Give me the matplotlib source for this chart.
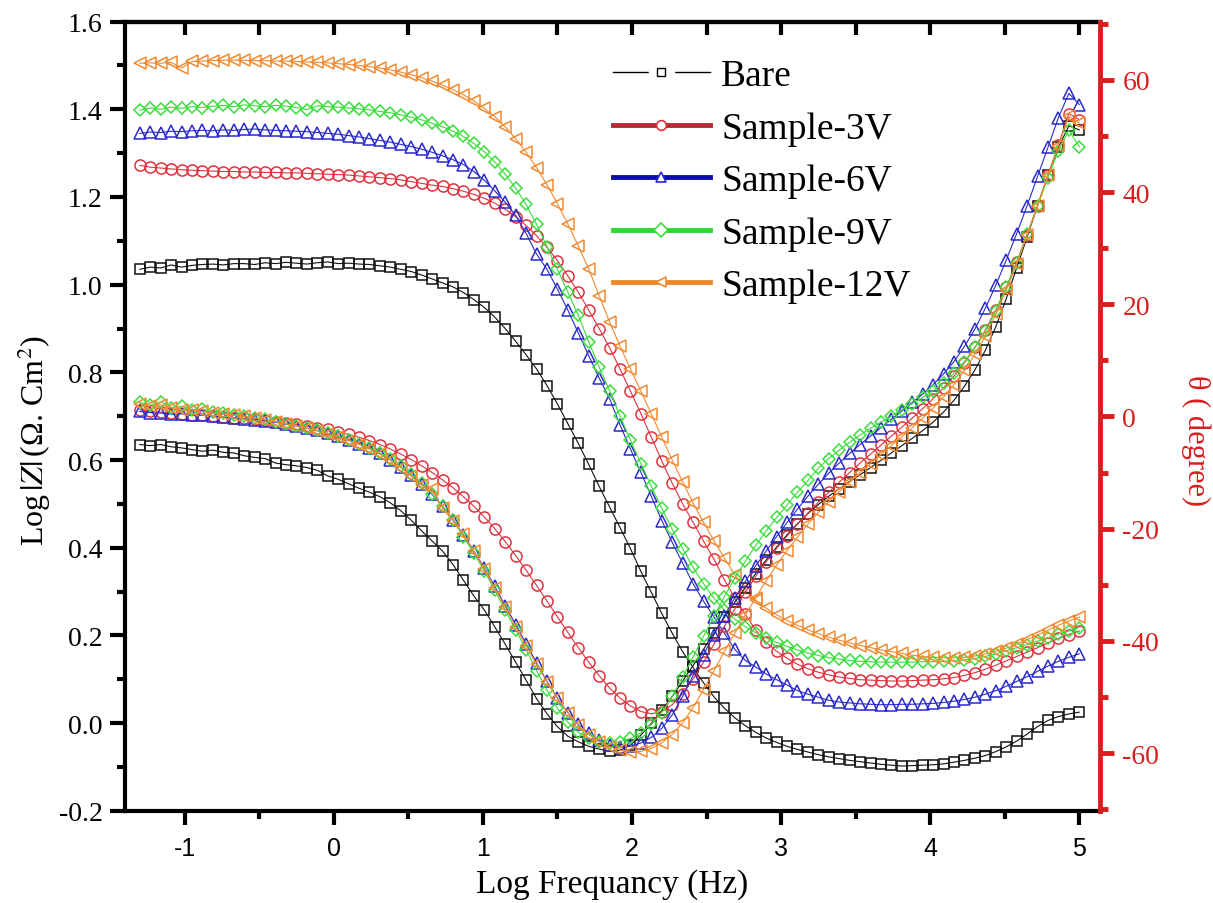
import numpy as np
import matplotlib
matplotlib.use('Agg')
import matplotlib.pyplot as plt
from matplotlib.lines import Line2D
from matplotlib.legend_handler import HandlerTuple
from matplotlib.ticker import MultipleLocator, FormatStrFormatter

plt.rcParams['font.family'] = 'Liberation Serif'
plt.rcParams['mathtext.fontset'] = 'stix'
plt.rcParams['axes.unicode_minus'] = False

# log frequency grid of the measurement (Hz, log10)
log_freq = np.round(np.arange(-1.30, 5.001, 0.07), 2)

# --- Log|Z| curves (left axis) ---
bare_z = [1.035, 1.040, 1.038, 1.045, 1.040, 1.044, 1.046, 1.047, 1.045, 1.048,
          1.048, 1.046, 1.050, 1.048, 1.051, 1.049, 1.047, 1.050, 1.052, 1.048,
          1.049, 1.047, 1.046, 1.043, 1.040, 1.035, 1.030, 1.022, 1.013, 1.004,
          0.995, 0.982, 0.966, 0.948, 0.926, 0.900, 0.871, 0.840, 0.808, 0.770,
          0.728, 0.683, 0.638, 0.590, 0.540, 0.493, 0.446, 0.398, 0.346, 0.298,
          0.250, 0.205, 0.163, 0.127, 0.092, 0.060, 0.034, 0.012, -0.006, -0.021,
          -0.034, -0.044, -0.053, -0.060, -0.066, -0.072, -0.077, -0.081, -0.085, -0.088,
          -0.091, -0.094, -0.096, -0.098, -0.097, -0.096, -0.095, -0.093, -0.089, -0.085,
          -0.080, -0.074, -0.065, -0.054, -0.041, -0.025, -0.008, 0.006, 0.015, 0.021,
          0.025]
s3_z = [1.272, 1.268, 1.266, 1.264, 1.262, 1.261, 1.260, 1.259, 1.258, 1.258,
        1.257, 1.257, 1.256, 1.256, 1.255, 1.255, 1.254, 1.253, 1.252, 1.251,
        1.250, 1.248, 1.246, 1.244, 1.242, 1.239, 1.235, 1.231, 1.227, 1.224,
        1.219, 1.213, 1.206, 1.197, 1.186, 1.172, 1.155, 1.135, 1.112, 1.085,
        1.055, 1.020, 0.983, 0.942, 0.900, 0.856, 0.808, 0.757, 0.706, 0.652,
        0.598, 0.547, 0.500, 0.458, 0.415, 0.374, 0.327, 0.285, 0.248, 0.212,
        0.184, 0.164, 0.148, 0.134, 0.124, 0.116, 0.110, 0.105, 0.102, 0.099,
        0.098, 0.097, 0.096, 0.096, 0.097, 0.098, 0.099, 0.101, 0.104, 0.109,
        0.115, 0.123, 0.132, 0.142, 0.152, 0.162, 0.172, 0.183, 0.193, 0.202,
        0.210]
s6_z = [1.345, 1.348, 1.347, 1.350, 1.349, 1.351, 1.352, 1.351, 1.353, 1.352,
        1.354, 1.355, 1.353, 1.352, 1.351, 1.350, 1.349, 1.347, 1.345, 1.343,
        1.340, 1.337, 1.333, 1.329, 1.325, 1.320, 1.315, 1.309, 1.302, 1.294,
        1.285, 1.274, 1.258, 1.238, 1.214, 1.188, 1.158, 1.117, 1.070, 1.035,
        0.990, 0.942, 0.890, 0.838, 0.787, 0.740, 0.680, 0.625, 0.572, 0.517,
        0.462, 0.412, 0.365, 0.318, 0.278, 0.242, 0.205, 0.168, 0.143, 0.128,
        0.112, 0.099, 0.087, 0.074, 0.066, 0.059, 0.052, 0.048, 0.046, 0.044,
        0.043, 0.042, 0.042, 0.043, 0.043, 0.044, 0.045, 0.047, 0.050, 0.054,
        0.059, 0.066, 0.074, 0.084, 0.095, 0.106, 0.118, 0.130, 0.141, 0.150,
        0.158]
s9_z = [1.398, 1.403, 1.400, 1.405, 1.402, 1.406, 1.404, 1.407, 1.409, 1.406,
        1.410, 1.408, 1.406, 1.409, 1.407, 1.404, 1.399, 1.408, 1.406, 1.405,
        1.403, 1.401, 1.399, 1.395, 1.392, 1.387, 1.382, 1.376, 1.368, 1.360,
        1.350, 1.338, 1.322, 1.303, 1.280, 1.252, 1.220, 1.183, 1.138, 1.087,
        1.035, 0.983, 0.930, 0.870, 0.812, 0.758, 0.700, 0.645, 0.592, 0.540,
        0.490, 0.442, 0.398, 0.355, 0.318, 0.285, 0.258, 0.237, 0.220, 0.206,
        0.194, 0.184, 0.175, 0.167, 0.160, 0.154, 0.149, 0.146, 0.143, 0.141,
        0.140, 0.139, 0.139, 0.139, 0.139, 0.140, 0.140, 0.141, 0.142, 0.144,
        0.147, 0.152, 0.158, 0.165, 0.172, 0.179, 0.187, 0.195, 0.203, 0.210,
        0.218]
s12_z = [1.505, 1.506, 1.505, 1.507, 1.494, 1.509, 1.510, 1.511, 1.512, 1.512,
         1.512, 1.511, 1.511, 1.510, 1.510, 1.509, 1.508, 1.507, 1.506, 1.504,
         1.502, 1.500, 1.497, 1.494, 1.490, 1.485, 1.479, 1.472, 1.464, 1.455,
         1.445, 1.433, 1.419, 1.402, 1.383, 1.360, 1.333, 1.302, 1.267, 1.228,
         1.185, 1.138, 1.088, 1.036, 0.975, 0.915, 0.860, 0.808, 0.757, 0.705,
         0.652, 0.600, 0.550, 0.502, 0.458, 0.416, 0.376, 0.338, 0.305, 0.280,
         0.262, 0.247, 0.234, 0.223, 0.213, 0.204, 0.196, 0.189, 0.183, 0.177,
         0.172, 0.167, 0.163, 0.159, 0.155, 0.152, 0.150, 0.149, 0.149, 0.150,
         0.153, 0.158, 0.164, 0.171, 0.180, 0.190, 0.201, 0.212, 0.223, 0.233,
         0.242]

# --- phase angle curves (right axis, degree) ---
bare_p = [-5.0, -5.2, -5.0, -5.4, -5.6, -5.9, -6.2, -6.0, -6.4, -6.5,
          -7.0, -7.3, -7.5, -8.3, -8.6, -8.8, -9.1, -9.6, -10.6, -11.2,
          -12.0, -12.8, -13.5, -14.3, -15.4, -16.8, -18.5, -20.4, -22.2, -24.0,
          -26.4, -29.2, -32.0, -34.5, -37.5, -40.6, -43.8, -47.0, -50.3, -53.0,
          -55.3, -57.0, -58.0, -58.8, -59.3, -59.7, -59.5, -58.6, -56.8, -54.7,
          -52.4, -49.9, -47.2, -44.4, -41.5, -38.6, -35.8, -33.1, -30.5, -28.0,
          -25.6, -23.3, -21.1, -19.1, -17.3, -15.7, -14.2, -12.9, -11.6, -10.4,
          -9.1, -7.8, -6.5, -5.2, -3.9, -2.5, -1.0, 0.8, 2.9, 5.4,
          8.3, 11.8, 16.0, 21.0, 26.5, 32.0, 37.6, 43.0, 48.0, 51.8,
          51.1]
s3_p = [1.2, 1.0, 0.8, 0.6, 0.5, 0.3, 0.2, 0.1, -0.1, -0.2,
        -0.3, -0.5, -0.7, -0.9, -1.2, -1.4, -1.7, -2.0, -2.3, -2.7,
        -3.2, -3.7, -4.3, -5.0, -5.8, -6.7, -7.7, -8.8, -10.0, -11.3,
        -12.7, -14.3, -16.0, -17.9, -20.0, -22.3, -24.8, -27.4, -30.1, -32.9,
        -35.7, -38.5, -41.2, -43.8, -46.2, -48.4, -50.2, -51.6, -52.6, -53.0,
        -52.6, -51.4, -49.4, -46.8, -43.8, -40.6, -37.4, -34.3, -31.3, -28.5,
        -25.9, -23.5, -21.3, -19.2, -17.2, -15.3, -13.5, -11.7, -10.0, -8.3,
        -6.7, -5.1, -3.5, -1.9, -0.3, 1.4, 3.2, 5.1, 7.2, 9.6,
        12.3, 15.4, 19.0, 23.0, 27.5, 32.4, 37.6, 43.0, 48.4, 54.0,
        52.9]
s6_p = [0.9, 0.7, 0.6, 0.4, 0.5, 0.2, 0.3, 0.0, -0.1, -0.3,
        -0.4, -0.6, -0.8, -1.0, -1.4, -1.7, -2.1, -2.5, -3.0, -3.5,
        -4.2, -4.9, -5.7, -6.6, -7.7, -9.0, -10.4, -12.0, -13.9, -16.0,
        -18.4, -21.1, -24.0, -27.0, -30.3, -33.7, -37.1, -40.5, -43.9, -47.2,
        -50.2, -52.8, -54.9, -56.5, -57.7, -58.5, -58.9, -58.8, -58.2, -57.2,
        -55.6, -53.2, -49.9, -46.2, -42.5, -38.9, -35.5, -32.3, -29.4, -26.6,
        -24.0, -21.4, -18.9, -16.5, -14.2, -12.1, -10.1, -8.3, -6.6, -5.0,
        -3.5, -2.0, -0.5, 1.0, 2.5, 4.0, 5.7, 7.6, 9.8, 12.5,
        15.6, 19.3, 23.4, 27.9, 32.6, 37.6, 42.8, 48.0, 53.3, 57.6,
        55.6]
s9_p = [2.5, 2.0, 2.6, 1.6, 1.8, 1.2, 1.3, 0.8, 0.7, 0.3,
        0.1, -0.2, -0.5, -0.9, -1.3, -1.7, -2.1, -2.5, -3.0, -3.5,
        -4.2, -4.9, -5.6, -6.5, -7.6, -8.9, -10.3, -11.9, -13.8, -16.0,
        -18.5, -21.4, -24.4, -27.5, -31.0, -34.5, -38.0, -41.6, -45.3, -48.8,
        -52.0, -54.5, -56.3, -57.4, -58.0, -58.2, -58.0, -57.4, -56.4, -54.9,
        -52.8, -49.9, -46.5, -42.9, -39.2, -35.6, -32.1, -28.8, -25.8, -23.0,
        -20.4, -18.0, -15.8, -13.5, -11.4, -9.2, -7.5, -6.0, -4.6, -3.3,
        -2.1, -1.0, 0.1, 1.2, 2.3, 3.4, 4.6, 6.0, 7.7, 9.8,
        12.3, 15.2, 18.8, 23.0, 27.4, 32.5, 37.6, 42.6, 47.4, 51.0,
        48.1]
s12_p = [2.3, 1.8, 2.1, 1.5, 1.2, 1.1, 0.9, 0.6, 0.4, 0.2,
         0.0, -0.3, -0.6, -0.9, -1.3, -1.7, -2.1, -2.6, -3.1, -3.7,
         -4.3, -5.0, -5.8, -6.7, -7.8, -9.1, -10.6, -12.3, -13.0, -16.4,
         -18.6, -21.0, -24.0, -27.2, -30.6, -34.0, -37.5, -40.9, -44.2, -47.3,
         -50.2, -52.8, -55.0, -56.7, -58.0, -58.9, -59.5, -59.8, -59.7, -59.2,
         -58.2, -56.7, -54.6, -51.9, -48.7, -45.3, -41.9, -38.6, -35.4, -32.3,
         -29.3, -26.5, -23.9, -21.5, -19.2, -17.1, -15.2, -13.4, -11.7, -10.0,
         -8.4, -6.8, -5.2, -3.6, -2.0, -0.3, 1.5, 3.5, 5.7, 8.2,
         11.1, 14.4, 18.2, 22.5, 27.2, 32.3, 37.6, 43.0, 48.3, 53.5,
         52.3]

names = ['Bare', 'Sample-3V', 'Sample-6V', 'Sample-9V', 'Sample-12V']
z_curves = [bare_z, s3_z, s6_z, s9_z, s12_z]
p_curves = [bare_p, s3_p, s6_p, s9_p, s12_p]
colors = ['#111111', '#e0323e', '#2a2acc', '#3cdc3c', '#f28a30']
leg_colors = ['#111111', '#b52a35', '#0c0ca8', '#2ed82e', '#ee8a2a']
markers = ['s', 'o', '^', 'D', '<']
msizes = [7, 8, 8, 6.5, 8]
red = '#d81e1e'

fig = plt.figure(figsize=(12.13, 9.04), dpi=100)
ax = fig.add_axes([0.103, 0.102, 0.804, 0.873])
ax2 = ax.twinx()

for z, p, c, m, ms in zip(z_curves, p_curves, colors, markers, msizes):
    ax.plot(log_freq, z, color=c, lw=0.8, marker=m, ms=ms, mfc='none', mec=c, mew=1.1)
    ax2.plot(log_freq, p, color=c, lw=0.8, marker=m, ms=ms, mfc='none', mec=c, mew=1.1)

ax.set_xlim(-1.4, 5.14)
ax.set_ylim(-0.2, 1.6)
ax2.set_ylim(-70.3, 70.4)

ax.xaxis.set_major_locator(MultipleLocator(1))
ax.xaxis.set_minor_locator(MultipleLocator(0.5))
ax.yaxis.set_major_locator(MultipleLocator(0.2))
ax.yaxis.set_minor_locator(MultipleLocator(0.1))
ax.yaxis.set_major_formatter(FormatStrFormatter('%.1f'))
ax2.yaxis.set_major_locator(MultipleLocator(20))
ax2.yaxis.set_minor_locator(MultipleLocator(10))

for s in ['left', 'bottom', 'top']:
    ax.spines[s].set_linewidth(3)
ax.spines['right'].set_visible(False)
for s in ['left', 'bottom', 'top']:
    ax2.spines[s].set_visible(False)
ax2.spines['right'].set_color(red)
ax2.spines['right'].set_linewidth(3.5)

ax.tick_params(axis='x', which='major', direction='out', length=10, width=3, labelsize=18, pad=8)
ax.tick_params(axis='x', which='minor', direction='out', length=6, width=3)
ax.tick_params(axis='y', which='major', direction='out', length=11, width=3, labelsize=20, pad=5)
ax.tick_params(axis='y', which='minor', direction='out', length=6, width=3)
for lab in ax.get_xticklabels():
    lab.set_fontfamily('Liberation Sans')

top = ax.secondary_xaxis('top')
top.xaxis.set_major_locator(MultipleLocator(0.5))
top.tick_params(direction='in', length=9, width=3, labeltop=False)
top.spines['top'].set_linewidth(3)

ax2.tick_params(axis='y', which='major', direction='out', length=10, width=3.5,
                colors=red, labelsize=20, pad=6)
ax2.tick_params(axis='y', which='minor', direction='out', length=6, width=3.5, colors=red)

ax.set_xlabel('Log Frequancy (Hz)', fontsize=24)
ax.xaxis.set_label_coords(0.5, -0.073)
ax.set_ylabel(r'Log$\,|Z|\,$(Ω. Cm$^{2}$)', fontsize=23)
ax.yaxis.set_label_coords(-0.074, 0.47)
ax2.set_ylabel('θ ( degree)', fontsize=22, color=red, rotation=270, va='bottom')
ax2.yaxis.set_label_coords(1.083, 0.47)

# legend handles
handles = [(Line2D([0], [0], color='black', lw=1),
            Line2D([0], [0], ls='none', marker='s', ms=18, mfc='white', mec='white'),
            Line2D([0], [0], ls='none', marker='s', ms=6, mfc='white', mec='black', mew=1))]
for lc, c, m in zip(leg_colors[1:], colors[1:], markers[1:]):
    handles.append(Line2D([0], [0], color=lc, lw=3.5, marker=m, ms=7,
                          mfc='white', mec=c, mew=1.2))
ax2.legend(handles, names, handler_map={tuple: HandlerTuple(ndivide=1)},
           loc='upper left', bbox_to_anchor=(0.50, 0.953), frameon=False,
           fontsize=27, handlelength=2.6, handletextpad=0.3, labelspacing=0.48,
           borderaxespad=0, borderpad=0)

fig.savefig('out.png', dpi=100)
